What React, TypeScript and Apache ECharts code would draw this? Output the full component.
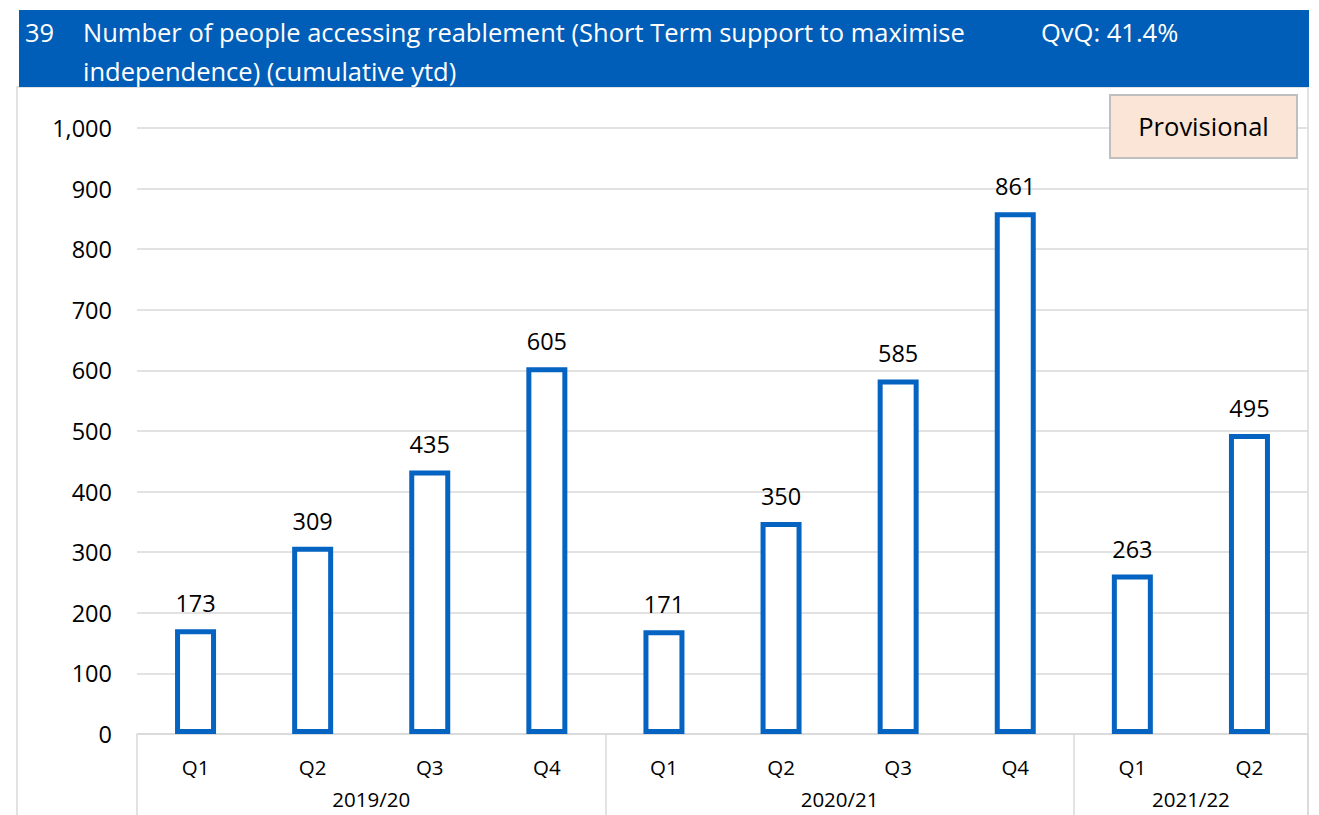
import React, { useEffect, useRef } from "react";
import * as echarts from "echarts";

const quarters = ["Q1", "Q2", "Q3", "Q4", "Q1", "Q2", "Q3", "Q4", "Q1", "Q2"];
const years = ["2019/20", "2020/21", "2021/22"];
const yearSizes = [4, 4, 2];
const values = [173, 309, 435, 605, 171, 350, 585, 861, 263, 495];
const yMin = 0;
const yMax = 1000;
const yInterval = 100;

const titleNumber = "39";
const titleLine1 = "Number of people accessing reablement (Short Term support to maximise";
const titleLine2 = "independence) (cumulative ytd)";
const qvq = "QvQ: 41.4%";
const badge = "Provisional";

const FONT = "'Open Sans', sans-serif";
const BLUE = "#005EB8";
const BAR = "#0563C1";
const GRID = "#D9D9D9";

export default function App() {
  const ref = useRef<HTMLDivElement>(null);

  useEffect(() => {
    if (!ref.current) return;
    const chart = echarts.init(ref.current, null, { renderer: "svg" });

    const keys: string[] = [];
    let idx = 0;
    years.forEach((y, gi) => {
      for (let k = 0; k < yearSizes[gi]; k++) {
        keys.push(y + "|" + quarters[idx]);
        idx++;
      }
    });
    const bounds: number[] = [0];
    const centers: number[] = [];
    let acc = 0;
    yearSizes.forEach((s) => {
      centers.push(acc + s / 2);
      acc += s;
      bounds.push(acc);
    });

    chart.setOption({
      animation: false,
      backgroundColor: "#ffffff",
      textStyle: { fontFamily: FONT },
      grid: {
        left: 137,
        right: 11,
        top: 128,
        bottom: 81,
        outerBoundsMode: "none",
        containLabel: false,
      },
      xAxis: [
        {
          type: "category",
          data: keys,
          position: "bottom",
          axisLine: { show: true, lineStyle: { color: GRID, width: 1.5 } },
          axisTick: { show: false },
          axisLabel: {
            color: "#000",
            fontSize: 20.5,
            fontFamily: FONT,
            margin: 22,
            formatter: (v: string) => v.split("|")[1],
          },
          splitLine: { show: false },
        },
        {
          type: "value",
          min: 0,
          max: keys.length,
          position: "bottom",
          axisLine: { show: false },
          splitLine: { show: false },
          axisTick: {
            show: true,
            customValues: bounds,
            length: 100,
            lineStyle: { color: GRID, width: 1.5 },
          },
          axisLabel: {
            show: true,
            customValues: centers,
            color: "#000",
            fontSize: 20.5,
            fontFamily: FONT,
            margin: 54,
            formatter: (v: number) => {
              const i = centers.indexOf(v);
              return i >= 0 ? years[i] : "";
            },
          },
        },
      ],
      yAxis: {
        type: "value",
        min: yMin,
        max: yMax,
        interval: yInterval,
        axisLine: { show: false },
        axisTick: { show: false },
        axisLabel: {
          color: "#000",
          fontSize: 23.5,
          fontFamily: FONT,
          margin: 25,
          formatter: (v: number) => v.toLocaleString("en-US"),
        },
        splitLine: { show: true, lineStyle: { color: GRID, width: 1.5 } },
      },
      series: [
        {
          type: "bar",
          xAxisIndex: 0,
          data: values,
          barWidth: 41,
          itemStyle: { color: "#ffffff", borderColor: BAR, borderWidth: 5 },
          label: {
            show: true,
            position: "top",
            distance: 14,
            color: "#000",
            fontSize: 23.5,
            fontFamily: FONT,
          },
        },
      ],
      graphic: [
        {
          type: "rect",
          shape: { x: 17, y: 87, width: 1291, height: 800 },
          style: { fill: "none", stroke: GRID, lineWidth: 1.5 },
          z: 1,
          silent: true,
        },
        {
          type: "rect",
          shape: { x: 19, y: 10, width: 1290, height: 77 },
          style: { fill: BLUE },
          z: 10,
          silent: true,
        },
        {
          type: "text",
          x: 25,
          y: 32,
          style: { text: titleNumber, fill: "#fff", font: `25.5px ${FONT}`, textVerticalAlign: "middle" },
          z: 11,
        },
        {
          type: "text",
          x: 83,
          y: 32,
          style: { text: titleLine1, fill: "#fff", font: `25.5px ${FONT}`, textVerticalAlign: "middle" },
          z: 11,
        },
        {
          type: "text",
          x: 83,
          y: 71,
          style: { text: titleLine2, fill: "#fff", font: `25.5px ${FONT}`, textVerticalAlign: "middle" },
          z: 11,
        },
        {
          type: "text",
          x: 1041,
          y: 32,
          style: { text: qvq, fill: "#fff", font: `25.5px ${FONT}`, textVerticalAlign: "middle" },
          z: 11,
        },
        {
          type: "rect",
          shape: { x: 1110, y: 95, width: 187, height: 63 },
          style: { fill: "#FBE5D6", stroke: "#BFBFBF", lineWidth: 2 },
          z: 10,
        },
        {
          type: "text",
          x: 1203.5,
          y: 126,
          style: {
            text: badge,
            fill: "#000",
            font: `25.5px ${FONT}`,
            textAlign: "center",
            textVerticalAlign: "middle",
          },
          z: 11,
        },
      ],
    });

    return () => chart.dispose();
  }, []);

  return (
    <div
      style={{ position: "fixed", left: 0, top: 0, width: 1319, height: 815, background: "#fff" }}
    >
      <div ref={ref} style={{ width: 1319, height: 815 }} />
    </div>
  );
}
